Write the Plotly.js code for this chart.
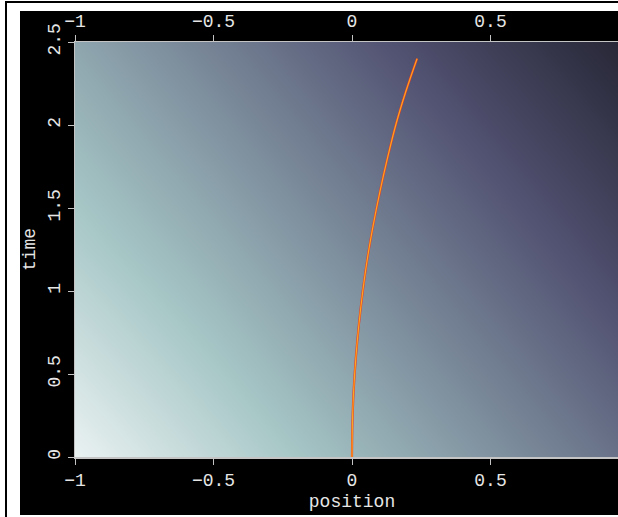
<!DOCTYPE html>
<html>
<head>
<meta charset="utf-8">
<script src="https://cdn.plot.ly/plotly-3.0.1.min.js"></script>
<style>
  html, body { margin: 0; padding: 0; width: 618px; height: 517px; overflow: hidden; background: #ffffff; }
  #frame { position: absolute; left: 5px; top: 1px; width: 800px; height: 600px;
           border-left: 2px solid #000; border-top: 2px solid #000; }
  #chart { position: absolute; left: 20px; top: 11px; width: 640px; height: 504px; }
</style>
</head>
<body>
<div id="frame"></div>
<div id="chart"></div>
<script>
// Background field (as bone-colormap positions)
const fieldX = [-1, -0.5, 0, 0.5, 1];
const fieldT = [0, 1.25, 2.5];
const fieldZ = [
  [0.94, 0.82, 0.70, 0.58, 0.46],
  [0.78, 0.67, 0.55, 0.43, 0.31],
  [0.64, 0.52, 0.40, 0.28, 0.17]
];

// Trajectory (position vs time)
const trajTime = [0, 0.2, 0.4, 0.6, 0.8, 1.0, 1.2, 1.4, 1.6, 1.8, 2.0, 2.2, 2.4];
const trajPos  = [0, 0.0015, 0.006, 0.014, 0.025, 0.039, 0.056, 0.077, 0.101, 0.128, 0.158, 0.194, 0.235];

const xTicks = [-1, -0.5, 0, 0.5];
const yTicks = [0, 0.5, 1, 1.5, 2, 2.5];

const boneScale = [
  [0, 'rgb(0,0,0)'],
  [0.365079, 'rgb(81,81,113)'],
  [0.746032, 'rgb(166,198,198)'],
  [1, 'rgb(255,255,255)']
];

const fontFam = 'Liberation Mono, Courier New, monospace';
const tickFont = { family: fontFam, size: 18, color: '#e6e6e6' };
const lineCol = '#c4c4c4';

const fmt = v => v < 0 ? '\u2212' + Math.abs(v) : String(v);

const traces = [
  {
    type: 'heatmap', x: fieldX, y: fieldT, z: fieldZ,
    colorscale: boneScale, zmin: 0, zmax: 1, zsmooth: 'best',
    showscale: false, hoverinfo: 'skip'
  },
  {
    type: 'scatter', mode: 'lines', x: trajPos, y: trajTime,
    line: { color: 'rgb(225,60,40)', width: 2.2, shape: 'spline', smoothing: 1 },
    hoverinfo: 'skip', showlegend: false
  },
  {
    type: 'scatter', mode: 'lines', x: trajPos, y: trajTime,
    line: { color: 'rgb(255,165,30)', width: 1.2, shape: 'spline', smoothing: 1 },
    hoverinfo: 'skip', showlegend: false
  },
  {
    type: 'scatter', mode: 'lines', x: [], y: [], xaxis: 'x2', yaxis: 'y',
    hoverinfo: 'skip', showlegend: false
  }
];

const axisCommon = {
  ticks: 'outside', ticklen: 6, tickwidth: 1, tickcolor: lineCol,
  tickfont: tickFont, showgrid: false, zeroline: false,
  showline: true, linecolor: lineCol, linewidth: 1.5
};

const layout = {
  width: 640, height: 504,
  margin: { l: 55, r: 31, t: 31, b: 58 },
  paper_bgcolor: '#000000', plot_bgcolor: '#000000',
  showlegend: false,
  xaxis: Object.assign({}, axisCommon, {
    range: [-1, 1], tickvals: xTicks, ticktext: xTicks.map(fmt),
    mirror: true,
    title: { text: 'position', font: { family: fontFam, size: 18, color: '#e6e6e6' }, standoff: 4 }
  }),
  xaxis2: Object.assign({}, axisCommon, {
    range: [-1, 1], tickvals: xTicks, ticktext: xTicks.map(fmt),
    overlaying: 'x', side: 'top', anchor: 'y'
  }),
  yaxis: Object.assign({}, axisCommon, {
    range: [0, 2.5], tickvals: yTicks, ticktext: yTicks.map(String),
    tickangle: -90, mirror: true,
    title: { text: 'time', font: { family: fontFam, size: 18, color: '#e6e6e6' }, standoff: 6 }
  })
};

Plotly.newPlot('chart', traces, layout, { displayModeBar: false, staticPlot: true });
</script>
</body>
</html>
